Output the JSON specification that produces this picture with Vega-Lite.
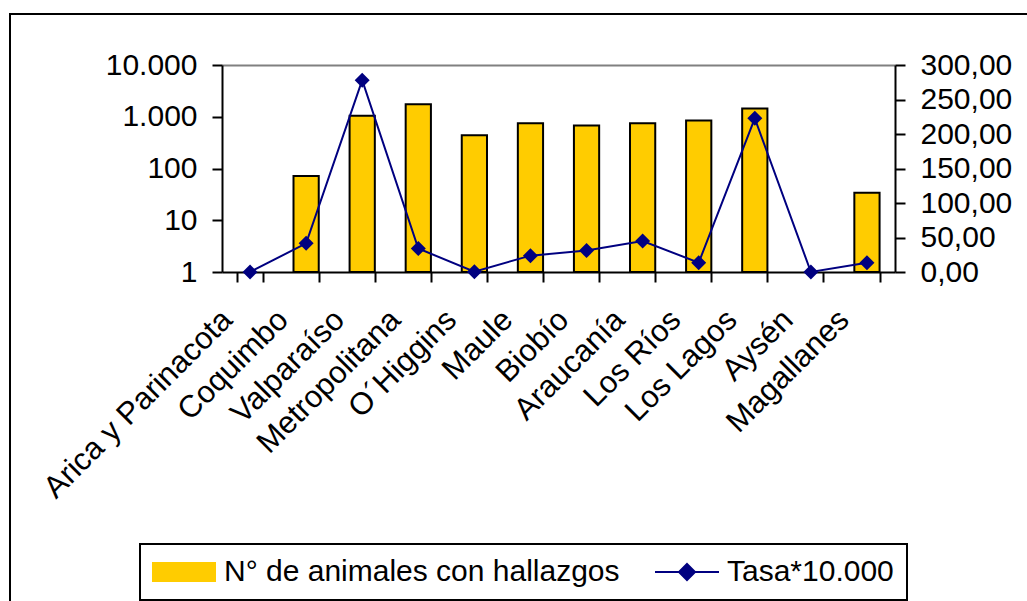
{
  "$schema": "https://vega.github.io/schema/vega-lite/v6.json",
  "autosize": {"type": "none"},
  "padding": {"left": 10, "top": 14, "right": 0, "bottom": 0},
  "width": 1030,
  "height": 600,
  "background": "white",
  "config": {
    "font": "Liberation Sans",
    "view": {"stroke": "black", "strokeWidth": 2},
    "legend": {"strokeWidth": 2},
    "locale": {"number": {"decimal": ",", "thousands": ".", "grouping": [3], "currency": ["$", ""]}},
    "axis": {
      "domainColor": "black", "domainWidth": 2,
      "tickColor": "black", "tickWidth": 2, "tickSize": 10,
      "labelFont": "Liberation Sans", "labelFontSize": 30, "labelColor": "black",
      "labelOverlap": false, "labelFlush": false, "labelLimit": 1000, "title": null
    }
  },
  "data": {
    "values": [
      {"region": "Arica y Parinacota", "n": null, "tasa": 0},
      {"region": "Coquimbo", "n": 72, "tasa": 41.6},
      {"region": "Valparaíso", "n": 1050, "tasa": 278},
      {"region": "Metropolitana", "n": 1750, "tasa": 34},
      {"region": "O´Higgins", "n": 440, "tasa": 0.5},
      {"region": "Maule", "n": 750, "tasa": 23.7},
      {"region": "Biobío", "n": 680, "tasa": 31},
      {"region": "Araucanía", "n": 750, "tasa": 45},
      {"region": "Los Ríos", "n": 845, "tasa": 13.5},
      {"region": "Los Lagos", "n": 1440, "tasa": 222.7},
      {"region": "Aysén", "n": null, "tasa": 0},
      {"region": "Magallanes", "n": 34, "tasa": 13.5}
    ]
  },
  "encoding": {
    "x": {
      "field": "region", "type": "nominal", "sort": null,
      "scale": {
        "domain": ["Arica y Parinacota", "Coquimbo", "Valparaíso", "Metropolitana", "O´Higgins", "Maule", "Biobío", "Araucanía", "Los Ríos", "Los Lagos", "Aysén", "Magallanes"],
        "range": [212, 885], "paddingInner": 0.55, "paddingOuter": 0.275
      },
      "axis": {
        "orient": "bottom", "offset": -342, "tickBand": "extent",
        "labelAngle": -45, "labelAlign": "right", "labelBaseline": "middle",
        "labelFontSize": 31, "labelPadding": 33, "labelOffset": -23,
        "grid": false, "title": null
      }
    }
  },
  "layer": [
    {
      "mark": {"type": "bar", "stroke": "black", "strokeWidth": 2},
      "encoding": {
        "y": {
          "field": "n", "type": "quantitative",
          "scale": {"type": "log", "domain": [1, 10000], "range": [258, 51]},
          "axis": {
            "orient": "left", "offset": -212, "values": [1, 10, 100, 1000, 10000],
            "format": ",d", "labelPadding": 15, "labelAlign": "right", "grid": true,
            "gridColor": {"condition": {"test": "datum.value === 10000", "value": "#808080"}, "value": "transparent"},
            "gridWidth": 2, "title": null
          }
        },
        "y2": {"datum": 1},
        "color": {
          "datum": "N° de animales con hallazgos",
          "scale": {"domain": ["N° de animales con hallazgos", "Tasa*10.000"], "range": ["#FFCC00", "#000080"]},
          "legend": {
            "orient": "none", "legendX": 130, "legendY": 530,
            "direction": "horizontal", "columns": 2, "title": null,
            "strokeColor": "black", "padding": 13,
            "labelFont": "Liberation Sans", "labelFontSize": 30, "labelColor": "black",
            "labelLimit": 1000, "labelOffset": 41, "columnPadding": 31, "symbolSize": 400,
            "symbolStrokeWidth": 2, "symbolOpacity": 1
          }
        }
      }
    },
    {
      "mark": {"type": "line", "strokeWidth": 2, "point": {"shape": "diamond", "size": 225, "filled": true, "opacity": 1}},
      "encoding": {
        "y": {
          "field": "tasa", "type": "quantitative",
          "scale": {"type": "linear", "domain": [0, 300], "range": [258, 51]},
          "axis": {
            "orient": "right", "offset": -145, "values": [0, 50, 100, 150, 200, 250, 300],
            "format": ",.2f", "labelPadding": 15, "labelAlign": "left", "grid": false, "title": null
          }
        },
        "color": {"datum": "Tasa*10.000"}
      }
    },
    {
      "transform": [{"filter": "datum.tasa < 0"}],
      "mark": {"type": "point", "filled": true, "opacity": 1},
      "encoding": {
        "color": {"datum": "Tasa*10.000"},
        "stroke": {
          "datum": "Tasa*10.000",
          "scale": {"domain": ["N° de animales con hallazgos", "Tasa*10.000"], "range": ["#000000", "#000080"]}
        },
        "shape": {
          "datum": "Tasa*10.000",
          "scale": {
            "domain": ["N° de animales con hallazgos", "Tasa*10.000"],
            "range": ["M-1.5,-0.9H4.7V0.9H-1.5Z", "M-1.6,0H4.8M1.6,-0.8L2.4,0L1.6,0.8L0.8,0Z"]
          }
        }
      }
    }
  ],
  "resolve": {"scale": {"y": "independent"}, "axis": {"y": "independent"}}
}
